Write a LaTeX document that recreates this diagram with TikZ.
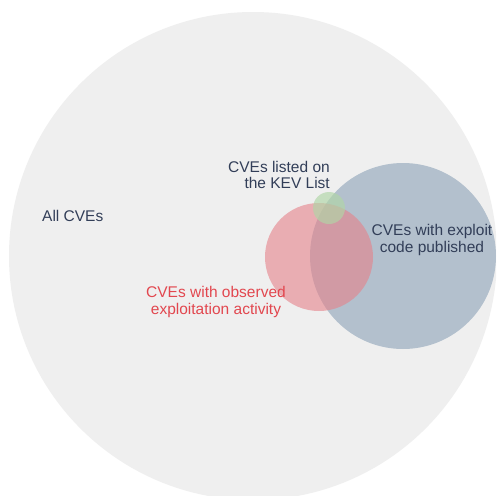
\documentclass[tikz,border=0pt]{standalone}
\usepackage{fontspec}
\setmainfont{Liberation Sans}
\definecolor{bigfill}{HTML}{EFEFEF}
\definecolor{bluefill}{HTML}{B3C0CD}
\definecolor{redfill}{HTML}{E5828A}
\definecolor{greenfill}{HTML}{B0D6A6}
\definecolor{navytext}{HTML}{323E58}
\definecolor{redtext}{HTML}{E2474F}
\begin{document}
\begin{tikzpicture}[x=1pt,y=-1pt,
  lbl/.style={font=\fontsize{15.5}{16.5}\selectfont, inner sep=0pt},
  setc/.style={circle, draw=none, inner sep=0pt}]
\useasboundingbox (0,0) rectangle (496,496);
\fill[white] (0,0) rectangle (496,496);
\begin{scope}
\clip (0,0) rectangle (496,496);
\node[setc, fill=bigfill, minimum size=488pt] (all) at (253,256) {};
\end{scope}
\node[setc, fill=bluefill, minimum size=186pt] (expl) at (403,256) {};
\node[setc, fill=redfill, fill opacity=0.6, minimum size=108pt] (obs) at (319,257) {};
\node[setc, fill=greenfill, fill opacity=0.65, minimum size=32pt] (kev) at (329,208) {};
\node[lbl, text=navytext, anchor=west] (allt) at (42,216) {All CVEs};
\node[lbl, text=navytext, align=right, anchor=east] (kevt) at (330,175) {CVEs listed on\\the KEV List};
\node[lbl, text=navytext, align=center] (explt) at (432,240) {CVEs with exploit\\code published};
\node[lbl, text=redtext, align=center] (obst) at (216,302) {CVEs with observed\\exploitation activity};
\end{tikzpicture}
\end{document}
